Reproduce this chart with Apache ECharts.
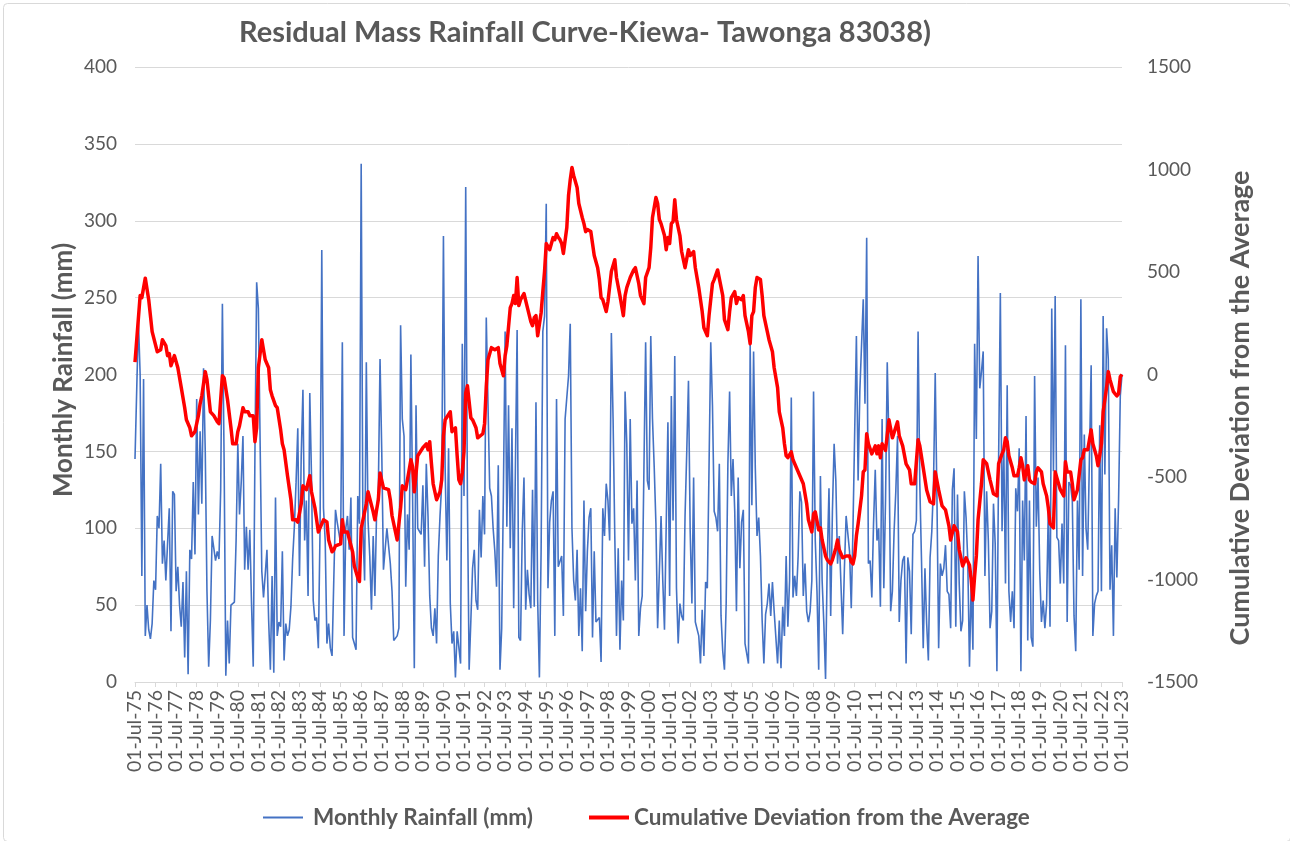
<!DOCTYPE html>
<html>
<head>
<meta charset="utf-8">
<script src="https://cdn.jsdelivr.net/npm/echarts@6/dist/echarts.min.js"></script>
<style>
html,body{margin:0;padding:0;background:#fff;}
#chart{width:1290px;height:841px;}
</style>
</head>
<body>
<div id="chart"></div>
<script>
// Year tick labels (one every 12 months, starting 01-Jul-75)
const xLabels = ['01-Jul-75','01-Jul-76','01-Jul-77','01-Jul-78','01-Jul-79','01-Jul-80','01-Jul-81','01-Jul-82','01-Jul-83','01-Jul-84','01-Jul-85','01-Jul-86','01-Jul-87','01-Jul-88','01-Jul-89','01-Jul-90','01-Jul-91','01-Jul-92','01-Jul-93','01-Jul-94','01-Jul-95','01-Jul-96','01-Jul-97','01-Jul-98','01-Jul-99','01-Jul-00','01-Jul-01','01-Jul-02','01-Jul-03','01-Jul-04','01-Jul-05','01-Jul-06','01-Jul-07','01-Jul-08','01-Jul-09','01-Jul-10','01-Jul-11','01-Jul-12','01-Jul-13','01-Jul-14','01-Jul-15','01-Jul-16','01-Jul-17','01-Jul-18','01-Jul-19','01-Jul-20','01-Jul-21','01-Jul-22','01-Jul-23'];

// Monthly rainfall (mm), Jul-1975 .. Jul-2023 (577 months)
const rainfall = [
145,190,235,200,69,197,30,50,34,28,
38,66,60,108,100,142,77,92,66,90,
113,33,124,122,59,75,50,36,65,16,
72,5,86,80,130,83,184,109,163,116,
204,150,59,10,40,95,95,79,85,80,
125,246,145,4,40,12,50,51,52,92,
155,109,130,160,73,101,73,99,51,10,
150,260,243,243,72,55,70,86,40,8,
69,6,120,30,39,36,85,14,38,30,
34,49,80,101,130,165,69,147,190,92,
118,56,188,134,53,40,42,22,100,281,
113,92,25,38,22,17,66,112,104,103,
90,221,30,100,108,86,120,29,25,21,
121,103,337,100,66,208,105,82,47,95,
56,111,124,210,150,73,73,100,101,77,
59,27,27,30,35,232,171,160,62,109,
86,213,121,9,180,100,99,96,128,75,
142,108,56,35,30,48,25,82,108,129,
290,139,79,152,51,25,33,3,33,33,
12,220,121,322,118,8,40,74,86,53,
47,112,81,121,96,237,181,126,121,100,
85,62,141,8,35,124,228,101,180,87,
165,48,140,229,29,27,98,133,47,73,
57,48,125,49,182,53,3,85,228,238,
311,61,104,118,124,30,184,75,74,82,
43,171,171,199,233,100,66,53,86,30,
61,20,118,46,85,107,113,29,85,39,
40,42,13,113,95,129,118,92,227,171,
95,30,87,21,66,40,189,155,79,171,
103,113,66,131,30,48,56,56,221,131,
125,225,171,140,103,35,35,108,66,34,
35,169,56,186,105,212,61,25,51,43,
40,108,150,196,98,51,133,39,40,30,
12,47,17,65,61,140,221,180,111,107,
98,142,43,20,8,51,142,189,121,145,
111,46,133,74,104,112,25,25,12,220,
115,215,139,95,107,82,40,12,44,51,
64,43,65,46,47,12,40,9,49,30,
82,36,66,185,55,69,56,82,124,117,
56,77,46,39,46,66,189,92,59,8,
134,66,38,2,79,126,43,111,155,131,
77,95,96,31,74,108,107,85,48,100,
101,225,131,189,189,249,181,289,77,79,
55,103,138,92,100,49,171,61,118,208,
155,46,59,98,124,160,39,66,79,82,
12,81,72,31,96,98,105,228,129,79,
22,74,38,14,81,98,129,201,120,22,
77,69,74,89,59,57,35,125,139,36,
122,64,33,40,124,107,79,10,66,21,
220,158,277,191,202,215,69,124,92,35,
46,116,90,7,145,253,98,154,64,193,
59,39,59,35,126,111,152,7,118,79,
173,27,118,29,23,199,101,133,72,39,
53,35,51,113,36,243,137,251,94,92,
64,103,64,219,39,130,128,118,43,20,
118,73,249,69,161,100,86,86,206,30,
51,56,59,167,59,238,135,230,210,60,
89,30,113,68,118,186,200
];

// Cumulative deviation from the average: month index (0 = Jul-1975) and value, read at the curve's turning points
const devMonths = [0,3,4,6,8,10,13,15,16,18,19,20,21,23,25,27,29,30,32,33,35,37,38,39,41,42,44,46,
48,49,51,52,54,56,57,59,60,61,63,64,66,67,69,70,71,72,74,75,76,78,79,80,82,83,85,86,87,89,91,92,94,95,
97,98,99,100,102,103,105,107,108,110,112,113,115,116,117,118,120,121,122,124,125,127,128,130,131,132,133,135,136,137,139,140,141,142,143,
145,148,149,150,152,153,155,156,158,159,161,162,163,165,166,168,170,171,172,173,174,176,178,179,180,181,182,184,185,187,188,189,190,191,192,193,194,195,196,197,199,200,201,203,204,205,206,208,210,212,213,215,216,217,219,220,221,222,223,224,225,227,229,231,232,233,234,235,236,237,238,239,240,241,242,
244,245,246,247,248,249,250,252,253,254,255,256,258,259,261,262,263,264,266,267,268,270,271,272,273,275,276,277,278,280,281,282,283,285,286,287,289,291,
292,294,295,297,298,300,301,302,304,305,306,307,309,310,311,312,313,314,315,316,318,319,321,322,323,324,326,327,329,331,332,334,335,337,338,340,
341,343,344,346,347,348,350,351,352,354,355,356,358,359,360,361,362,363,364,365,366,367,369,370,372,373,375,376,378,379,380,381,383,384,385,386,388,389,
390,392,393,395,396,397,399,400,401,403,404,406,407,409,410,411,413,415,417,418,419,420,421,422,424,425,426,427,428,430,432,433,434,435,436,438,
440,442,445,446,448,450,452,453,455,457,458,460,462,464,466,467,469,471,473,475,476,478,480,481,483,485,486,487,
488,489,490,491,492,494,495,496,497,499,500,501,503,504,505,506,507,508,509,510,512,513,515,516,517,518,519,520,521,522,523,525,526,527,529,530,532,533,534,536,
537,539,540,542,543,544,546,547,548,550,552,553,554,556,557,558,559,561,562,563,564,565,567,568,569,571,572,573,574,575,576];
const devValues = [60,385,375,470,365,209,111,121,170,141,92,102,43,92,33,-64,-162,-221,-260,-299,-279,-201,-143,-104,14,-25,-182,-201,
-230,-240,-6,-16,-123,-260,-338,-338,-279,-250,-162,-182,-182,-201,-201,-328,-260,33,170,121,72,33,-74,-104,-152,-162,-270,-338,-367,-494,-611,-709,-709,-720,
-631,-543,-543,-562,-494,-572,-650,-768,-768,-709,-719,-807,-865,-855,-836,-836,-826,-709,-768,-768,-777,-865,-934,-992,-1010,-750,-758,-631,-572,-572,-670,-709,-709,-611,-480,
-553,-562,-611,-689,-768,-807,-650,-543,-562,-562,-416,-450,-572,-396,-387,-357,-338,-367,-328,-435,-533,-611,-572,-514,-300,-221,-221,-182,-279,-260,-396,-514,-533,-480,-377,-90,-55,-64,-211,-221,-260,-309,-309,-289,-240,-60,72,131,121,131,53,-6,92,141,326,346,385,346,473,336,365,395,326,258,238,277,287,189,180,300,404,502,639,630,609,
668,658,687,670,658,639,590,717,873,950,1010,971,912,834,766,736,697,707,697,639,580,521,463,375,365,307,355,355,502,560,473,473,385,287,385,424,473,510,
521,443,385,346,473,521,619,766,863,834,756,736,678,609,668,639,736,746,853,756,678,600,521,512,609,580,600,521,424,307,228,189,287,443,463,510,
512,385,268,219,307,375,404,346,375,365,385,287,209,150,287,307,424,473,482,463,385,287,209,170,111,33,-64,-182,-260,-338,-396,-406,-377,-416,-416,-455,-494,-494,
-533,-631,-709,-768,-680,-670,-758,-748,-807,-885,-904,-924,-904,-846,-807,-855,-894,-885,-885,-914,-924,-885,-787,-728,-592,-475,-465,-289,-338,-387,-348,-387,-348,-406,-338,-370,
-221,-309,-231,-299,-348,-436,-465,-533,-533,-318,-348,-455,-563,-621,-631,-475,-563,-641,-660,-738,-807,-738,-768,-855,-934,-894,-894,-930,
-1002,-1100,-982,-885,-709,-533,-416,-416,-435,-514,-514,-582,-592,-435,-426,-387,-367,-309,-328,-396,-455,-494,-494,-455,-406,-445,-514,-514,-445,-514,-524,-533,-475,-455,-475,-533,-592,-650,-728,-748,
-475,-533,-562,-592,-426,-475,-475,-533,-611,-562,-416,-406,-367,-367,-367,-270,-338,-396,-445,-396,-338,-182,-64,14,-25,-84,-94,-104,-94,-10,0];

const FONT = 'Lato, "Open Sans", sans-serif';
const GREY = '#595959';
const BLUE = '#4472C4';
const RED = '#FF0000';

const chart = echarts.init(document.getElementById('chart'), null, {renderer: 'canvas'});
chart.setOption({
  backgroundColor: '#ffffff',
  animation: false,
  title: {
    text: 'Residual Mass Rainfall Curve-Kiewa- Tawonga 83038)',
    left: 234, top: 13,
    textStyle: {fontFamily: FONT, fontSize: 29, fontWeight: 'bold', color: GREY}
  },
  graphic: [
    {type: 'rect', left: 1, top: 1, shape: {width: 1287, height: 838, r: 4},
     style: {fill: 'none', stroke: '#d9d9d9', lineWidth: 1}, silent: true, z: -10},
    {type: 'text', x: 64, y: 370, rotation: Math.PI / 2,
     style: {text: 'Monthly Rainfall (mm)', fill: GREY, font: 'bold 26px ' + FONT, textAlign: 'center', textVerticalAlign: 'middle'}},
    {type: 'text', x: 1240, y: 408, rotation: Math.PI / 2,
     style: {text: 'Cumulative Deviation from the Average', fill: GREY, font: 'bold 27px ' + FONT, textAlign: 'center', textVerticalAlign: 'middle'}}
  ],
  legend: [
    {
      left: 258, top: 801, icon: 'rect',
      itemWidth: 40, itemHeight: 2,
      textStyle: {fontFamily: FONT, fontSize: 22.5, fontWeight: 'bold', color: GREY, padding: [0, 0, 0, 5]},
      data: ['Monthly Rainfall (mm)']
    },
    {
      left: 584, top: 801, icon: 'rect',
      itemWidth: 40, itemHeight: 4,
      textStyle: {fontFamily: FONT, fontSize: 22.5, fontWeight: 'bold', color: GREY, padding: [0, 0, 0, 0]},
      data: ['Cumulative Deviation from the Average']
    }
  ],
  grid: {left: 135, right: 168, top: 67, bottom: 159, containLabel: false},
  xAxis: {
    type: 'value', min: 0, max: 576, interval: 12,
    axisLine: {show: true, onZero: false, lineStyle: {color: '#d9d9d9', width: 1}},
    axisTick: {show: true, inside: false, length: 5, lineStyle: {color: '#d9d9d9'}},
    splitLine: {show: false},
    axisLabel: {
      rotate: 90, margin: 8, color: GREY, fontFamily: FONT, fontSize: 19.5,
      formatter: function (v) { return xLabels[Math.round(v / 12)] || ''; }
    }
  },
  yAxis: [
    {
      type: 'value', min: 0, max: 400, interval: 50, position: 'left',
      axisLine: {show: false}, axisTick: {show: false},
      splitLine: {show: true, lineStyle: {color: '#d9d9d9', width: 1}},
      axisLabel: {margin: 18, color: GREY, fontFamily: FONT, fontSize: 19}
    },
    {
      type: 'value', min: -1500, max: 1500, interval: 500, position: 'right',
      axisLine: {show: false}, axisTick: {show: false}, splitLine: {show: false},
      axisLabel: {margin: 25, color: GREY, fontFamily: FONT, fontSize: 19,
        formatter: function (v) { return String(v); }}
    }
  ],
  series: [
    {
      name: 'Monthly Rainfall (mm)', type: 'line', yAxisIndex: 0,
      symbol: 'none', showSymbol: false,
      lineStyle: {color: BLUE, width: 1.6}, itemStyle: {color: BLUE},
      data: rainfall.map(function (v, i) { return [i, v]; }), z: 2
    },
    {
      name: 'Cumulative Deviation from the Average', type: 'line', yAxisIndex: 1,
      symbol: 'none', showSymbol: false,
      lineStyle: {color: RED, width: 3.5, join: 'round'}, itemStyle: {color: RED},
      data: devMonths.map(function (m, i) { return [m, devValues[i]]; }), z: 3
    }
  ]
});
</script>
</body>
</html>
